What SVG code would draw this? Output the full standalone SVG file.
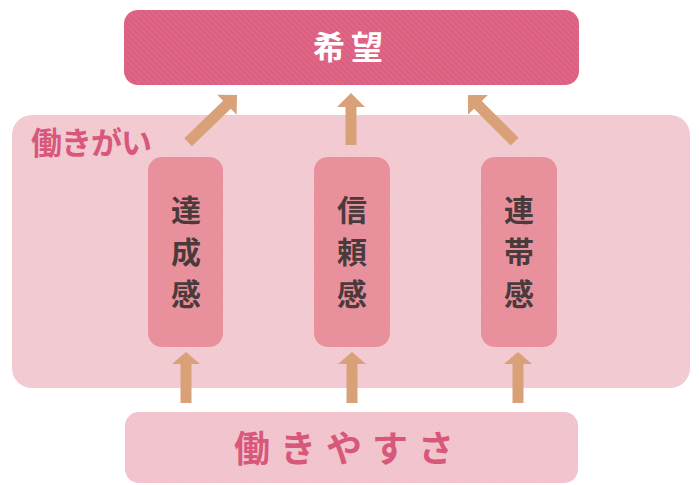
<svg xmlns="http://www.w3.org/2000/svg" width="699" height="485" viewBox="0 0 699 485">
  <style>
    .jp { font-family: "Noto Sans CJK JP", "Noto Sans", sans-serif; font-weight: bold; }
    .hope { fill: #dc5f80; }
    .bg { fill: #f2c9d0; }
    .item { fill: #e8919d; }
    .base { fill: #f1c3cc; }
    .arrow { fill: #d8a178; }
    .itemtext { fill: #4b3a3c; font-size: 30px; text-anchor: middle; }
  </style>
  <defs>
    <pattern id="hatch" width="4" height="4" patternUnits="userSpaceOnUse" patternTransform="rotate(45)">
      <rect width="4" height="1.2" fill="#ffffff" opacity="0.08"/>
    </pattern>
  </defs>
  <rect width="699" height="485" fill="#ffffff"/>

  <g id="ikigai">
    <rect class="bg" x="12" y="115" width="678" height="273" rx="20"/>
    <rect x="12" y="115" width="678" height="273" rx="20" fill="url(#hatch)"/>
    <text class="jp" x="31" y="154" font-size="31" fill="#d8587c" letter-spacing="-1">働きがい</text>
  </g>

  <g id="hope">
    <rect class="hope" x="124" y="10" width="455" height="75" rx="14"/>
    <rect x="124" y="10" width="455" height="75" rx="14" fill="url(#hatch)"/>
    <text class="jp" x="351" y="59" font-size="32" fill="#ffffff" text-anchor="middle" letter-spacing="6">希望</text>
  </g>

  <g id="tassei">
    <rect class="item" x="148" y="157" width="75" height="190" rx="14"/>
    <text class="jp itemtext" x="186" y="221"><tspan x="186">達</tspan><tspan x="186" dy="42">成</tspan><tspan x="186" dy="42">感</tspan></text>
  </g>

  <g id="shinrai">
    <rect class="item" x="314" y="157" width="76" height="190" rx="14"/>
    <text class="jp itemtext" x="352" y="221"><tspan x="352">信</tspan><tspan x="352" dy="42">頼</tspan><tspan x="352" dy="42">感</tspan></text>
  </g>

  <g id="rentai">
    <rect class="item" x="481" y="157" width="76" height="190" rx="14"/>
    <text class="jp itemtext" x="519" y="221"><tspan x="519">連</tspan><tspan x="519" dy="42">帯</tspan><tspan x="519" dy="42">感</tspan></text>
  </g>

  <g id="hatarakiyasusa">
    <rect class="base" x="125" y="412" width="453" height="71" rx="14"/>
    <rect x="125" y="412" width="453" height="71" rx="14" fill="url(#hatch)"/>
    <text class="jp" x="349" y="462" font-size="36" fill="#d8587c" text-anchor="middle" letter-spacing="10">働きやすさ</text>
  </g>

  <g id="connectors">
    <polygon class="arrow" transform="translate(186,352)" points="0,0 14,12 5.5,12 5.5,51 -5.5,51 -5.5,12 -14,12"/>
    <polygon class="arrow" transform="translate(352,352)" points="0,0 14,12 5.5,12 5.5,51 -5.5,51 -5.5,12 -14,12"/>
    <polygon class="arrow" transform="translate(518,352)" points="0,0 14,12 5.5,12 5.5,51 -5.5,51 -5.5,12 -14,12"/>
    <polygon class="arrow" transform="translate(351,93)" points="0,0 14,14 5.5,14 5.5,52 -5.5,52 -5.5,14 -14,14"/>
    <polygon class="arrow" transform="translate(237,95) rotate(46)" points="0,0 14,14 5.5,14 5.5,68 -5.5,68 -5.5,14 -14,14"/>
    <polygon class="arrow" transform="translate(468,95) rotate(-45)" points="0,0 14,14 5.5,14 5.5,66 -5.5,66 -5.5,14 -14,14"/>
  </g>
</svg>
